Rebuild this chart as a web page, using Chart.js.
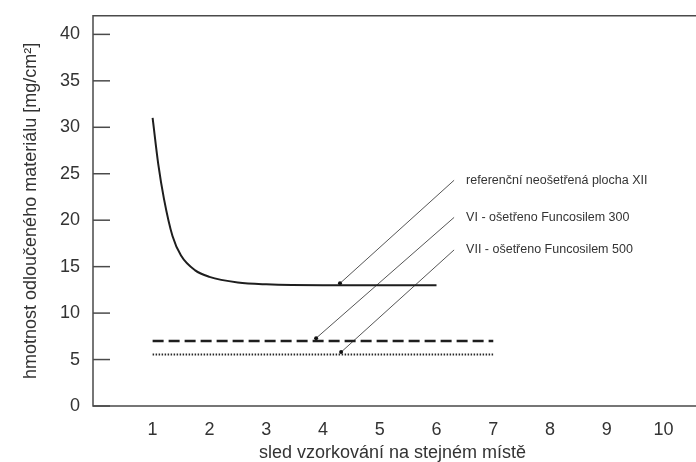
<!DOCTYPE html>
<html>
<head>
<meta charset="utf-8">
<script src="https://cdn.jsdelivr.net/npm/chart.js@4.4.1/dist/chart.umd.min.js"></script>
<style>
    html, body { margin: 0; padding: 0; background: #fff; }
    #wrap { width: 696px; height: 462px; }
</style>
</head>
<body>
<div id="wrap"><canvas id="chart"></canvas></div>
<script>
// Data -------------------------------------------------
const ref_x = [1, 1.1, 1.2, 1.35, 1.5, 1.75, 2, 2.5, 3, 4, 5, 6];
const ref_y = [31, 26, 22.3, 18.3, 16.2, 14.6, 13.9, 13.3, 13.1, 13.0, 13.0, 13.0];

const vi_x = [1, 7];
const vi_y = [7.0, 7.0];

const vii_x = [1, 7];
const vii_y = [5.55, 5.55];

const labels = [
    "referenční neošetřená plocha XII",
    "VI - ošetřeno Funcosilem 300",
    "VII - ošetřeno Funcosilem 500"
];
// leader lines: [start on series, end at label]
const leader_x = [[4.3, 6.31], [3.88, 6.31], [4.32, 6.31]];
const leader_y = [[13.2, 24.3], [7.3, 20.3], [5.8, 16.8]];

const x_ticks = [1, 2, 3, 4, 5, 6, 7, 8, 9, 10];
const y_ticks = [0, 5, 10, 15, 20, 25, 30, 35, 40];

const TXT = "#333";
const FONT = "'Liberation Sans', Arial, sans-serif";

function toPoints(xs, ys) {
    return xs.map((x, i) => ({ x: x, y: ys[i] }));
}

let datasets = [
    {
        data: toPoints(ref_x, ref_y),
        borderColor: "#1e1e1e",
        borderWidth: 2,
        cubicInterpolationMode: "monotone",
        pointRadius: 0
    },
    {
        data: toPoints(vi_x, vi_y),
        borderColor: "#1e1e1e",
        borderWidth: 2.5,
        borderDash: [11, 5],
        pointRadius: 0
    },
    {
        data: toPoints(vii_x, vii_y),
        borderColor: "#2a2a2a",
        borderWidth: 2,
        borderDash: [1.5, 1.5],
        pointRadius: 0
    }
];

leader_x.forEach((xs, i) => {
    datasets.push({
        data: toPoints(xs, leader_y[i]),
        borderColor: "#555",
        borderWidth: 1,
        pointRadius: [2, 0],
        pointBackgroundColor: "#111",
        pointBorderWidth: 0
    });
});

// frame, inward y ticks and the leader labels
const decor = {
    id: "decor",
    afterDraw(chart) {
        const c = chart.ctx;
        const a = chart.chartArea;
        const ys = chart.scales.y;
        const xs = chart.scales.x;
        c.save();
        c.strokeStyle = "#4a4a4a";
        c.lineWidth = 1.5;
        c.beginPath();
        c.moveTo(chart.width, a.top);
        c.lineTo(a.left, a.top);
        c.lineTo(a.left, a.bottom);
        c.lineTo(chart.width, a.bottom);
        c.stroke();

        y_ticks.forEach(v => {
            const py = ys.getPixelForValue(v);
            c.beginPath();
            c.moveTo(a.left, py);
            c.lineTo(a.left + 17, py);
            c.stroke();
        });

        c.fillStyle = TXT;
        c.font = "12.5px " + FONT;
        c.textBaseline = "middle";
        labels.forEach((t, i) => {
            const px = xs.getPixelForValue(leader_x[i][1]) + 12;
            const py = ys.getPixelForValue(leader_y[i][1]);
            c.fillText(t, px, py);
        });
        c.restore();
    }
};

new Chart(document.getElementById("chart"), {
    type: "line",
    data: { datasets: datasets },
    options: {
        responsive: true,
        maintainAspectRatio: false,
        animation: false,
        layout: { padding: { top: 9, right: 0, left: 0, bottom: 0 } },
        plugins: { legend: { display: false }, tooltip: { enabled: false } },
        scales: {
            x: {
                type: "linear",
                min: -0.05,
                max: 10.5,
                afterBuildTicks: (scale) => { scale.ticks = x_ticks.map(v => ({ value: v })); },
                afterFit: (scale) => { scale.height = 56; },
                grid: { display: false },
                border: { display: false },
                ticks: { color: TXT, font: { size: 18, family: FONT }, padding: 5 },
                title: {
                    display: true,
                    text: "sled vzorkování na stejném místě",
                    color: TXT,
                    font: { size: 18, family: FONT, lineHeight: 1 },
                    padding: { top: 0, bottom: 0 }
                }
            },
            y: {
                min: 0,
                max: 42,
                afterBuildTicks: (scale) => { scale.ticks = y_ticks.map(v => ({ value: v })); },
                afterFit: (scale) => { scale.width = 93; },
                grid: { display: false },
                border: { display: false },
                ticks: { color: TXT, font: { size: 18, family: FONT }, padding: 5 },
                title: {
                    display: true,
                    text: "hmotnost odloučeného materiálu [mg/cm²]",
                    color: TXT,
                    font: { size: 18, family: FONT },
                    padding: { top: 20, bottom: 0 }
                }
            }
        }
    },
    plugins: [decor]
});
</script>
</body>
</html>
